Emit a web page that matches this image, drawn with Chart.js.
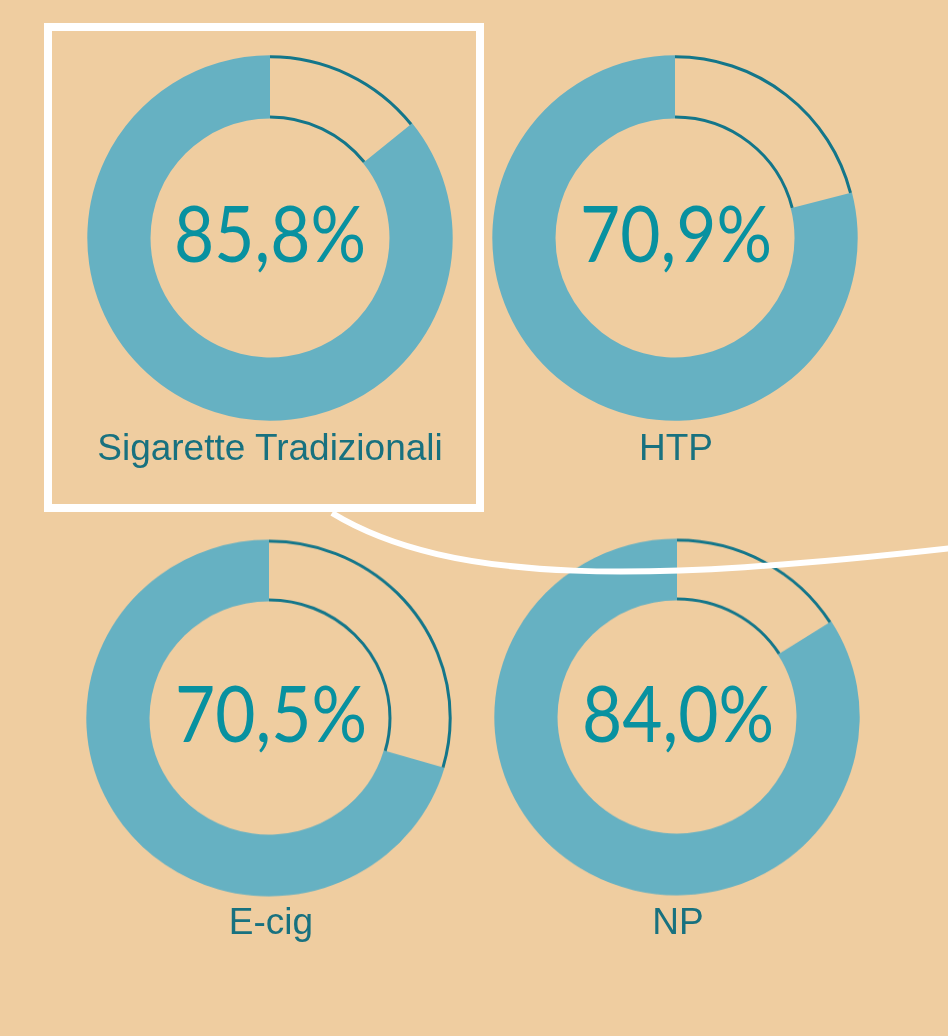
<!DOCTYPE html>
<html>
<head>
<meta charset="utf-8">
<script src="https://cdn.jsdelivr.net/npm/chart.js@4.4.1/dist/chart.umd.min.js"></script>
<style>
  html, body { margin: 0; padding: 0; }
  body { width: 948px; height: 1036px; background: #EFCDA0; position: relative; overflow: hidden; }
  canvas.ring { position: absolute; }
  .center { position: absolute; width: 400px; text-align: center; font-family: Lato, "Open Sans", sans-serif; font-size: 77px; line-height: 77px; color: #0891A0; transform: scaleX(0.9); transform-origin: 50% 50%; white-space: nowrap; }
  .label { position: absolute; width: 500px; text-align: center; font-family: "Liberation Sans", Arial, sans-serif; font-size: 37px; line-height: 37px; color: #18717F; white-space: nowrap; }
  #frame { position: absolute; left: 44px; top: 23px; width: 440px; height: 489px; border: 8px solid #FFFFFF; box-sizing: border-box; }
  #deco { position: absolute; left: 0; top: 0; width: 948px; height: 1036px; pointer-events: none; }
</style>
</head>
<body>
<div id="frame"></div>
<svg id="deco" width="948" height="1036" viewBox="0 0 948 1036">
  <path d="M332 513 C452 586 650 582 952 548" fill="none" stroke="#FFFFFF" stroke-width="6"/>
</svg>
<script>
// ---- data ----
const categories = ["Sigarette Tradizionali", "HTP", "E-cig", "NP"];
const ringValues = [85.8, 79.0, 70.5, 84.0];          // share drawn as filled arc
const centerLabels = ["85,8%", "70,9%", "70,5%", "84,0%"];

// ---- layout (canvas placement, label placement) ----
const layout = [
  { left: 70,  top: 38,  scaleY: 1,     cx: 270, textTop: 194, labelTop: 429 },
  { left: 475, top: 38,  scaleY: 1,     cx: 676, textTop: 194, labelTop: 429 },
  { left: 69,  top: 518, scaleY: 0.976, cx: 271, textTop: 674, labelTop: 903 },
  { left: 477, top: 517, scaleY: 0.976, cx: 678, textTop: 674, labelTop: 903 }
];

const FILL = "#66B1C2";
const OUTLINE = "#13768A";

const outlinePlugin = {
  id: "remainderOutline",
  afterDatasetsDraw(chart) {
    const arc = chart.getDatasetMeta(0).data[0];
    const p = arc.getProps(["x", "y", "startAngle", "endAngle", "innerRadius", "outerRadius"], true);
    const ctx = chart.ctx;
    ctx.save();
    ctx.strokeStyle = OUTLINE;
    ctx.lineWidth = 3;
    ctx.beginPath();
    ctx.arc(p.x, p.y, p.outerRadius - 1.5, p.startAngle, p.endAngle);
    ctx.stroke();
    ctx.beginPath();
    ctx.arc(p.x, p.y, p.innerRadius + 1.5, p.startAngle, p.endAngle);
    ctx.stroke();
    ctx.restore();
  }
};

const deco = document.getElementById("deco");

categories.forEach((cat, i) => {
  const L = layout[i];
  const cv = document.createElement("canvas");
  cv.className = "ring";
  cv.width = 400; cv.height = 400;
  cv.style.width = "400px"; cv.style.height = "400px";
  cv.style.left = L.left + "px"; cv.style.top = L.top + "px";
  if (L.scaleY !== 1) { cv.style.transform = "scaleY(" + L.scaleY + ")"; cv.style.transformOrigin = "50% 50%"; }
  document.body.insertBefore(cv, deco);

  new Chart(cv, {
    type: "doughnut",
    data: {
      labels: ["", cat],
      datasets: [{
        data: [100 - ringValues[i], ringValues[i]],
        backgroundColor: ["rgba(0,0,0,0)", FILL],
        borderWidth: 0,
        hoverOffset: 0
      }]
    },
    options: {
      responsive: false,
      animation: false,
      events: [],
      radius: 182.7,
      cutout: "65.4%",
      layout: { padding: 0 },
      plugins: { legend: { display: false }, tooltip: { enabled: false } }
    },
    plugins: [outlinePlugin]
  });

  const c = document.createElement("div");
  c.className = "center";
  c.textContent = centerLabels[i];
  c.style.left = (L.cx - 200) + "px";
  c.style.top = L.textTop + "px";
  document.body.insertBefore(c, deco);

  const lb = document.createElement("div");
  lb.className = "label";
  lb.textContent = cat;
  lb.style.left = (L.cx - 250) + "px";
  lb.style.top = L.labelTop + "px";
  document.body.insertBefore(lb, deco);
});
</script>
</body>
</html>
